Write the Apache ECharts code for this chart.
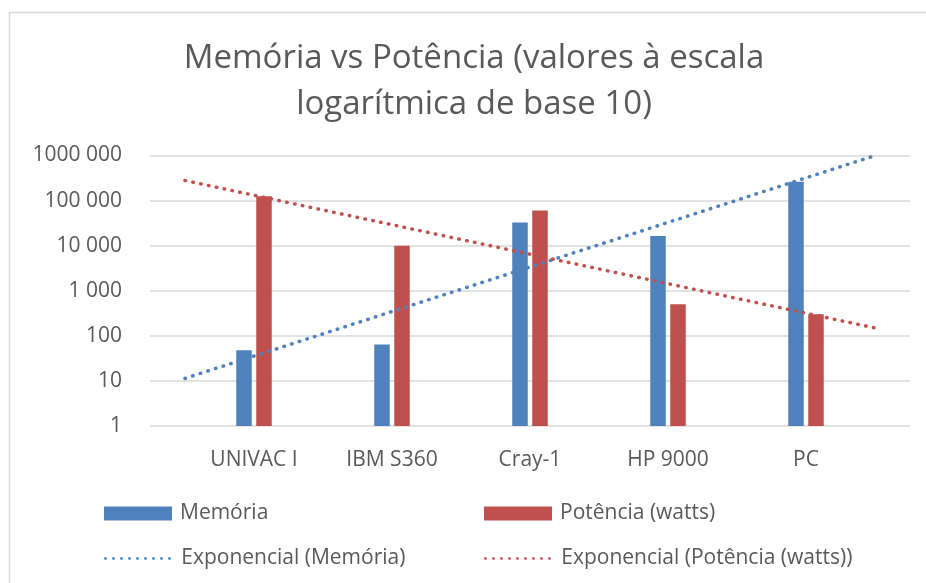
<!DOCTYPE html>
<html>
<head>
<meta charset="utf-8">
<script src="https://cdn.jsdelivr.net/npm/echarts@6/dist/echarts.min.js"></script>
<style>html,body{margin:0;padding:0;background:#fff;}#c{width:926px;height:583px;}</style>
</head>
<body>
<div id="c"></div>
<script>
const categories = ['UNIVAC I', 'IBM S360', 'Cray-1', 'HP 9000', 'PC'];
const memoria = [48, 64, 32768, 16384, 262144];
const potencia = [125000, 10000, 60000, 500, 300];
const yTickLabels = ['1', '10', '100', '1 000', '10 000', '100 000', '1000 000'];
const titleLines = ['Memória vs Potência (valores à escala', 'logarítmica de base 10)'];
const seriesNames = ['Memória', 'Potência (watts)', 'Exponencial (Memória)', 'Exponencial (Potência (watts))'];

// Exponential trendline (least squares on log10 values), extended half a category each side
function expTrend(vals) {
  const n = vals.length;
  const xs = vals.map((_, i) => i);
  const ys = vals.map(v => Math.log10(v));
  const mx = xs.reduce((a, b) => a + b, 0) / n;
  const my = ys.reduce((a, b) => a + b, 0) / n;
  let sxy = 0, sxx = 0;
  for (let i = 0; i < n; i++) { sxy += (xs[i] - mx) * (ys[i] - my); sxx += (xs[i] - mx) * (xs[i] - mx); }
  const b = sxy / sxx, a = my - b * mx;
  const x0 = -0.5, x1 = n - 0.5;
  return [[x0, Math.pow(10, a + b * x0)], [x1, Math.pow(10, a + b * x1)]];
}

const FONT = 'Open Sans';
const GREY = '#595959';
const BLUE = '#4F81BD';
const RED = '#C0504D';
const dotted = [0.5, 7.5];

const chart = echarts.init(document.getElementById('c'));
const legendBase = {
  padding: 0, itemWidth: 68, itemHeight: 14, selectedMode: false,
  textStyle: { fontFamily: FONT, fontSize: 21, color: GREY, padding: [0, 0, 0, 3] }
};
chart.setOption({
  animation: false,
  graphic: [
    { type: 'rect', shape: { x: 9.5, y: 12.5, width: 1000, height: 1000 }, style: { fill: 'none', stroke: '#d9d9d9', lineWidth: 1.5 }, silent: true },
    { type: 'text', x: 474, y: 36, style: { text: titleLines.join('\n'), align: 'center', verticalAlign: 'top', fontFamily: FONT, fontSize: 33, lineHeight: 46, fill: GREY } }
  ],
  grid: [
    { left: 150, right: 16, top: 155.5, height: 270.5 },
    { left: 185, right: 51, top: 155.5, height: 270.5 }
  ],
  xAxis: [
    { type: 'value', gridIndex: 0, show: false, min: 0, max: 1 },
    { type: 'category', gridIndex: 1, data: categories, axisLine: { show: false }, axisTick: { show: false },
      axisLabel: { fontFamily: FONT, fontSize: 21, color: GREY, margin: 24 } },
    { type: 'value', gridIndex: 1, show: false, min: -0.5, max: categories.length - 0.5 }
  ],
  yAxis: [
    { type: 'log', logBase: 10, gridIndex: 0, min: 1, max: 1000000,
      axisLine: { show: false }, axisTick: { show: false },
      splitLine: { show: true, lineStyle: { color: '#d9d9d9', width: 1.5 } },
      axisLabel: { fontFamily: FONT, fontSize: 21, color: GREY, margin: 28,
        formatter: v => yTickLabels[Math.round(Math.log10(v))] } },
    { type: 'log', logBase: 10, gridIndex: 1, min: 1, max: 1000000, show: false, splitLine: { show: false } }
  ],
  legend: [
    Object.assign({ left: 104, top: 503, data: [{ name: seriesNames[0], icon: 'rect' }] }, legendBase),
    Object.assign({ left: 484, top: 503, data: [{ name: seriesNames[1], icon: 'rect' }] }, legendBase),
    Object.assign({ left: 104, top: 548, data: [{ name: seriesNames[2], itemStyle: { opacity: 0 }, lineStyle: { width: 2.5 } }] }, legendBase),
    Object.assign({ left: 484, top: 548, data: [{ name: seriesNames[3], itemStyle: { opacity: 0 }, lineStyle: { width: 2.5 } }] }, legendBase)
  ],
  series: [
    { name: seriesNames[0], type: 'bar', xAxisIndex: 1, yAxisIndex: 1, data: memoria, barWidth: 15.5, barGap: '29%', itemStyle: { color: BLUE } },
    { name: seriesNames[1], type: 'bar', xAxisIndex: 1, yAxisIndex: 1, data: potencia, barWidth: 15.5, barGap: '29%', itemStyle: { color: RED } },
    { name: seriesNames[2], type: 'line', xAxisIndex: 2, yAxisIndex: 1, data: expTrend(memoria), symbol: 'none', z: 5,
      lineStyle: { color: BLUE, width: 3.5, type: dotted, cap: 'round' }, itemStyle: { color: BLUE } },
    { name: seriesNames[3], type: 'line', xAxisIndex: 2, yAxisIndex: 1, data: expTrend(potencia), symbol: 'none', z: 5,
      lineStyle: { color: RED, width: 3.5, type: dotted, cap: 'round' }, itemStyle: { color: RED } }
  ]
});
</script>
</body>
</html>
